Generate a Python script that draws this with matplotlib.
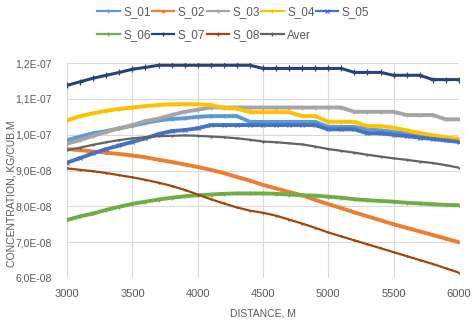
import matplotlib
matplotlib.use("Agg")
import matplotlib.pyplot as plt
from matplotlib.ticker import FuncFormatter, MultipleLocator
import numpy as np

plt.rcParams['font.family'] = ['Liberation Sans Narrow', 'Liberation Sans', 'DejaVu Sans']

distance = list(range(3000, 6001, 100))

# values in units of 1E-08 kg/cub.m
s_01 = [9.85, 9.95, 10.04, 10.10, 10.18, 10.25, 10.33, 10.40, 10.44, 10.46, 10.50,
        10.52, 10.52, 10.52, 10.36, 10.36, 10.36, 10.36, 10.36, 10.36, 10.22,
        10.22, 10.22, 10.15, 10.12, 10.08, 10.03, 9.98, 9.93, 9.88, 9.83]
s_02 = [9.60, 9.57, 9.53, 9.50, 9.46, 9.42, 9.37, 9.30, 9.24, 9.17, 9.10,
        9.02, 8.93, 8.82, 8.72, 8.60, 8.50, 8.40, 8.31, 8.18, 8.06,
        7.95, 7.83, 7.72, 7.61, 7.50, 7.40, 7.30, 7.20, 7.10, 7.00]
s_03 = [9.75, 9.85, 9.97, 10.08, 10.18, 10.27, 10.38, 10.45, 10.55, 10.64, 10.70,
        10.76, 10.76, 10.76, 10.76, 10.76, 10.76, 10.76, 10.76, 10.76, 10.76,
        10.76, 10.64, 10.64, 10.64, 10.64, 10.55, 10.55, 10.55, 10.43, 10.43]
s_04 = [10.40, 10.52, 10.60, 10.67, 10.72, 10.76, 10.80, 10.83, 10.85, 10.85, 10.85,
        10.83, 10.75, 10.73, 10.63, 10.63, 10.63, 10.63, 10.52, 10.52, 10.36,
        10.36, 10.36, 10.24, 10.24, 10.20, 10.12, 10.05, 9.98, 9.93, 9.88]
s_05 = [9.22, 9.35, 9.48, 9.60, 9.70, 9.80, 9.90, 10.02, 10.10, 10.13, 10.18,
        10.27, 10.27, 10.27, 10.27, 10.27, 10.27, 10.27, 10.27, 10.27, 10.15,
        10.15, 10.15, 10.04, 10.04, 10.00, 9.96, 9.92, 9.88, 9.84, 9.80]
s_06 = [7.62, 7.72, 7.80, 7.90, 7.99, 8.07, 8.13, 8.19, 8.24, 8.28, 8.31,
        8.33, 8.35, 8.36, 8.36, 8.36, 8.35, 8.33, 8.31, 8.30, 8.27,
        8.24, 8.20, 8.17, 8.15, 8.13, 8.10, 8.08, 8.06, 8.04, 8.03]
s_07 = [11.38, 11.48, 11.58, 11.66, 11.74, 11.83, 11.88, 11.94, 11.94, 11.94, 11.94,
        11.94, 11.94, 11.94, 11.94, 11.85, 11.85, 11.85, 11.85, 11.85, 11.85,
        11.85, 11.74, 11.74, 11.74, 11.66, 11.66, 11.66, 11.54, 11.54, 11.54]
s_08 = [9.06, 9.02, 8.98, 8.93, 8.87, 8.81, 8.74, 8.66, 8.57, 8.46, 8.33,
        8.20, 8.08, 7.97, 7.88, 7.82, 7.74, 7.63, 7.52, 7.40, 7.27,
        7.16, 7.05, 6.94, 6.83, 6.72, 6.61, 6.50, 6.39, 6.27, 6.15]
aver = [9.57, 9.64, 9.72, 9.79, 9.85, 9.90, 9.93, 9.96, 9.97, 9.98, 9.97,
        9.95, 9.93, 9.90, 9.86, 9.81, 9.79, 9.76, 9.73, 9.67, 9.60,
        9.55, 9.50, 9.44, 9.39, 9.34, 9.30, 9.25, 9.21, 9.15, 9.08]

names = ["S_01", "S_02", "S_03", "S_04", "S_05", "S_06", "S_07", "S_08", "Aver"]
series = [s_01, s_02, s_03, s_04, s_05, s_06, s_07, s_08, aver]
colors = ["#5B9BD5", "#ED7D31", "#A5A5A5", "#FFC000", "#4472C4",
          "#70AD47", "#264478", "#9E480E", "#636363"]
markers = ["+", ".", "+", "+", "x", "+", "+", "+", "+"]
widths = [2.8, 2.8, 2.8, 2.8, 2.8, 2.8, 2.2, 1.6, 1.6]
msizes = [3, 3, 3, 3, 3.5, 3, 4, 2, 2]

fig = plt.figure(figsize=(4.76, 3.27), dpi=100)
ax = fig.add_axes([0.141, 0.15, 0.823, 0.657])

handles = []
for name, vals, c, m, w, ms in zip(names, series, colors, markers, widths, msizes):
    y = np.array(vals) * 1e-8
    h, = ax.plot(distance, y, color=c, lw=w, marker=m, markersize=ms,
                 markeredgewidth=0.9, label=name)
    handles.append(h)

ax.set_xlim(3000, 6000)
ax.set_ylim(6e-8, 1.2e-7)
ax.xaxis.set_major_locator(MultipleLocator(500))
ax.yaxis.set_major_locator(MultipleLocator(1e-8))
ax.yaxis.set_major_formatter(FuncFormatter(lambda v, p: f"{v:.1E}".replace(".", ",")))
ax.grid(True, color="#D9D9D9", lw=0.8)
ax.set_axisbelow(True)
for s in ax.spines.values():
    s.set_visible(False)
ax.tick_params(axis="y", length=0, labelsize=7.5, labelcolor="#595959", pad=11)
ax.tick_params(axis="x", length=0, labelsize=8, labelcolor="#595959", pad=8)
ax.set_xlabel("DISTANCE, M", fontsize=7.5, color="#595959", labelpad=7)
ax.set_ylabel("CONCENTRATION, KG/CUB.M", fontsize=7.5, color="#595959")
ax.yaxis.set_label_coords(-0.13, 0.39)

order = [0, 5, 1, 6, 2, 7, 3, 8, 4]
leg_handles = []
for i in order:
    h = handles[i]
    lh, = ax.plot([], [], color=h.get_color(), lw=1.6, marker=h.get_marker(),
                  markersize=3.5, markeredgewidth=0.9)
    leg_handles.append(lh)
leg = fig.legend(leg_handles, [names[i] for i in order],
                 loc="upper center", bbox_to_anchor=(0.49, 1.015), ncol=5,
                 frameon=False, fontsize=8.5, handlelength=1.9, handletextpad=0.3,
                 columnspacing=0.1, labelspacing=1.0)
for t in leg.get_texts():
    t.set_color("#595959")

fig.savefig("out.png", dpi=100)
